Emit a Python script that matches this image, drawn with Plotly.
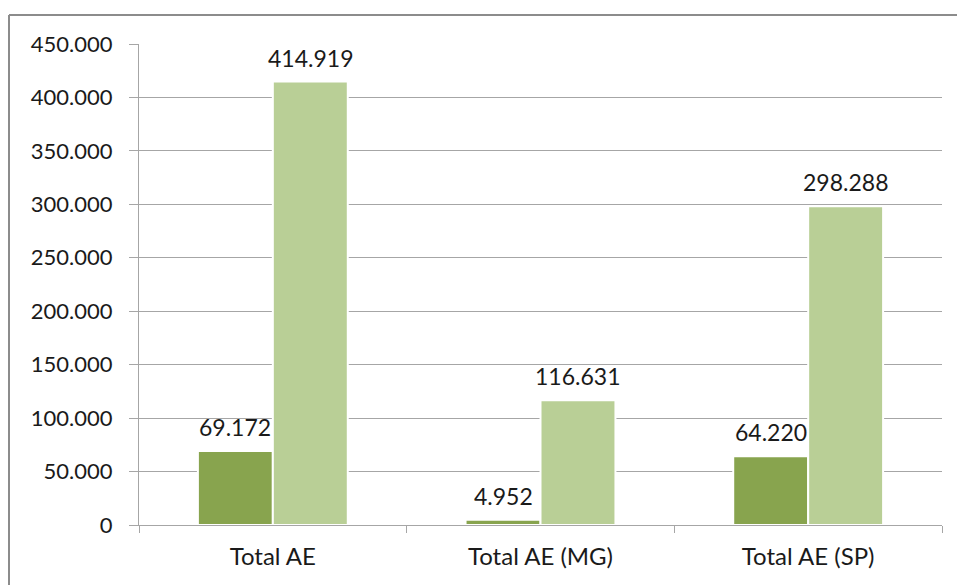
import plotly.graph_objects as go

categories = ["Total AE", "Total AE (MG)", "Total AE (SP)"]
series_a = [69172, 4952, 64220]
series_b = [414919, 116631, 298288]
tick_vals = [0, 50000, 100000, 150000, 200000, 250000, 300000, 350000, 400000, 450000]

W, H = 957, 585
ML, MR, MT, MB = 139, 15, 44, 60
pw, ph = W - ML - MR, H - MT - MB
BARGAP = 0.44

FONT = "Lato"
TXT = "#1a1a1a"
fig = go.Figure()
fig.add_trace(go.Bar(
    x=categories, y=series_a, name="A",
    marker=dict(color="#88A44E", line=dict(color="white", width=2)),
))
fig.add_trace(go.Bar(
    x=categories, y=series_b, name="B",
    marker=dict(color="#B9CF96", line=dict(color="white", width=2)),
))

# data labels above bars
cat_w = pw / len(categories)
bar_w = cat_w * (1 - BARGAP) / 2
for series, sign in ((series_a, -1), (series_b, 1)):
    for c, v in zip(categories, series):
        fig.add_annotation(
            x=c, y=v, xref="x", yref="y", text=f"{v:,}".replace(",", "."),
            showarrow=False, yanchor="bottom", xanchor="center",
            xshift=sign * bar_w / 2, yshift=8,
            font=dict(family=FONT, size=23, color=TXT),
        )

def px_x(p):
    return (p - ML) / pw

def px_y(p):
    return (H - MB - p) / ph

fig.add_shape(type="line", xref="paper", yref="paper",
              x0=px_x(9), x1=px_x(965), y0=px_y(15), y1=px_y(15),
              line=dict(color="#8c8c8c", width=2))
fig.add_shape(type="line", xref="paper", yref="paper",
              x0=px_x(9), x1=px_x(9), y0=px_y(15), y1=px_y(600),
              line=dict(color="#8c8c8c", width=2))

fig.update_layout(
    width=W, height=H,
    margin=dict(l=ML, r=MR, t=MT, b=MB),
    paper_bgcolor="white", plot_bgcolor="white",
    separators=",.",
    showlegend=False,
    barmode="group", bargap=BARGAP, bargroupgap=0.0,
    font=dict(family=FONT, size=22, color=TXT),
    xaxis=dict(
        showline=True, linecolor="#a6a6a6", linewidth=1,
        ticks="outside", tickson="boundaries", ticklen=7, tickcolor="#a6a6a6",
        tickfont=dict(family=FONT, size=24, color=TXT),
        ticklabelstandoff=10,
        showgrid=False,
    ),
    yaxis=dict(
        range=[0, 450000], tickvals=tick_vals, tickformat=",d",
        showline=True, linecolor="#a6a6a6", linewidth=1,
        ticks="outside", ticklen=9, tickcolor="#a6a6a6",
        ticklabelstandoff=12,
        showgrid=True, gridcolor="#a6a6a6", gridwidth=1,
        zeroline=False,
        tickfont=dict(family=FONT, size=22, color=TXT),
    ),
)

fig.write_html("out.html")
